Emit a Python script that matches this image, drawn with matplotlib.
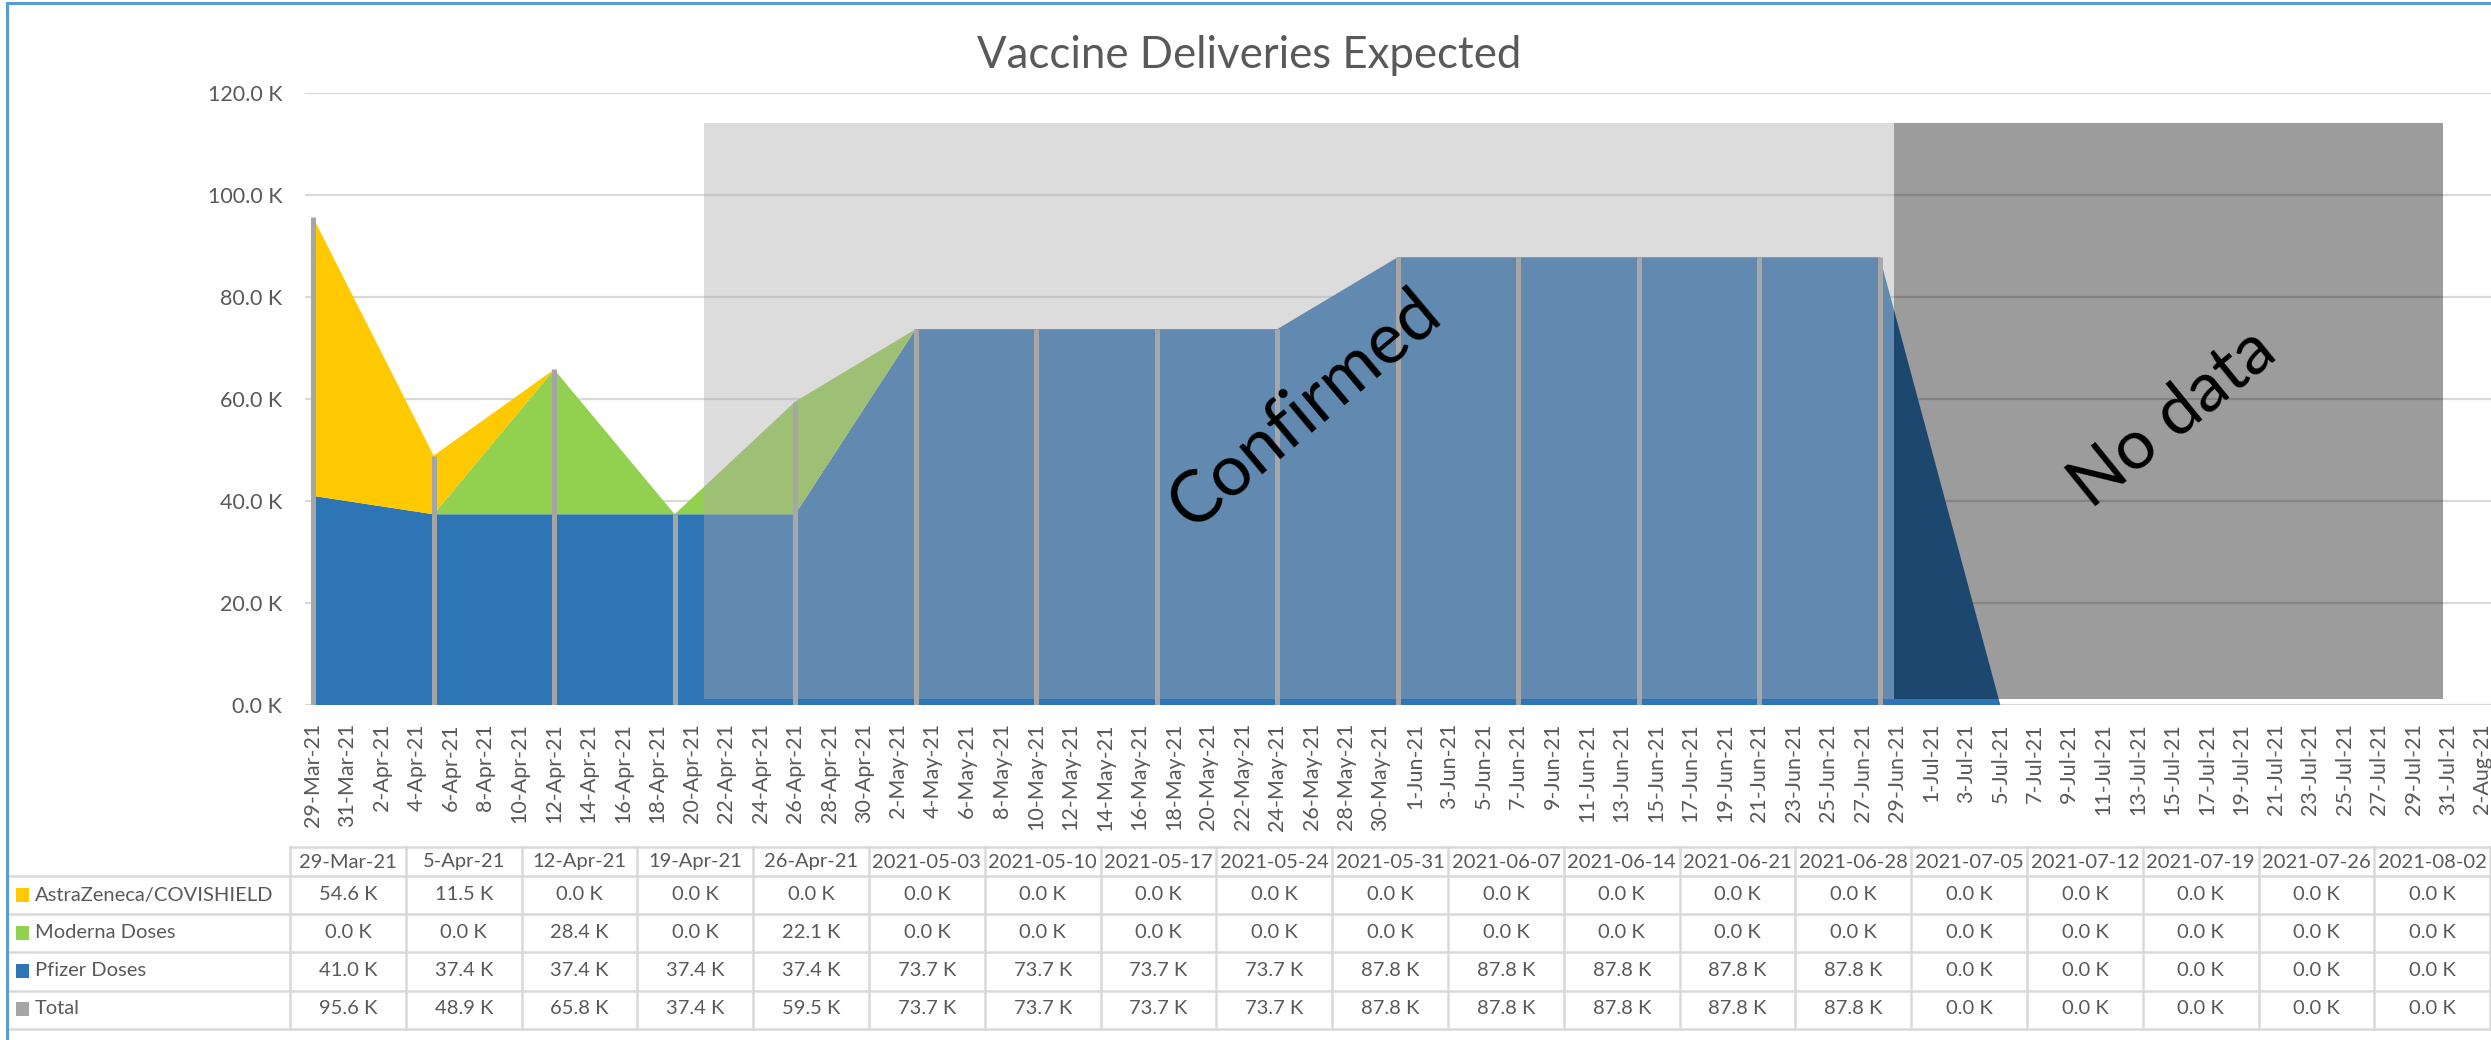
import matplotlib
matplotlib.use("Agg")
import matplotlib.pyplot as plt
import matplotlib.dates as mdates
import pandas as pd
from matplotlib.patches import Rectangle
from matplotlib.lines import Line2D

# ---------------- data ----------------
week_dates = ['2021-03-29', '2021-04-05', '2021-04-12', '2021-04-19', '2021-04-26',
              '2021-05-03', '2021-05-10', '2021-05-17', '2021-05-24', '2021-05-31',
              '2021-06-07', '2021-06-14', '2021-06-21', '2021-06-28', '2021-07-05',
              '2021-07-12', '2021-07-19', '2021-07-26', '2021-08-02']
header_labels = ['29-Mar-21', '5-Apr-21', '12-Apr-21', '19-Apr-21', '26-Apr-21',
                 '2021-05-03', '2021-05-10', '2021-05-17', '2021-05-24', '2021-05-31',
                 '2021-06-07', '2021-06-14', '2021-06-21', '2021-06-28', '2021-07-05',
                 '2021-07-12', '2021-07-19', '2021-07-26', '2021-08-02']
astrazeneca = [54.6, 11.5, 0.0, 0.0, 0.0, 0.0, 0.0, 0.0, 0.0, 0.0,
               0.0, 0.0, 0.0, 0.0, 0.0, 0.0, 0.0, 0.0, 0.0]
moderna = [0.0, 0.0, 28.4, 0.0, 22.1, 0.0, 0.0, 0.0, 0.0, 0.0,
           0.0, 0.0, 0.0, 0.0, 0.0, 0.0, 0.0, 0.0, 0.0]
pfizer = [41.0, 37.4, 37.4, 37.4, 37.4, 73.7, 73.7, 73.7, 73.7, 87.8,
          87.8, 87.8, 87.8, 87.8, 0.0, 0.0, 0.0, 0.0, 0.0]
total = [95.6, 48.9, 65.8, 37.4, 59.5, 73.7, 73.7, 73.7, 73.7, 87.8,
         87.8, 87.8, 87.8, 87.8, 0.0, 0.0, 0.0, 0.0, 0.0]
series_names = ['AstraZeneca/COVISHIELD', 'Moderna Doses', 'Pfizer Doses', 'Total']
y_ticks = [0, 20, 40, 60, 80, 100, 120]

# ---------------- styles ----------------
C_AZ, C_MOD, C_PFZ, C_TOT = '#FFC900', '#92D050', '#2E75B6', '#A5A5A5'
TXT = '#595959'
GRID = '#D9D9D9'
MAIN = ['Lato', 'DejaVu Sans']
TFS = 14.5

W, H = 2491, 1040
fig = plt.figure(figsize=(W / 100, H / 100), dpi=100)
fig.patch.set_facecolor('white')

def fx(x):
    return x / W

def fy(y):
    return 1 - y / H

ax_left, ax_right, ax_top, ax_bot = 304.5, 2491.0, 93.0, 705.0
ax = fig.add_axes([fx(ax_left), fy(ax_bot), fx(ax_right - ax_left), (ax_bot - ax_top) / H])
ax.set_facecolor('none')

x = mdates.date2num(pd.to_datetime(week_dates))
ax.stackplot(x, pfizer, moderna, astrazeneca, colors=[C_PFZ, C_MOD, C_AZ],
             linewidth=0, zorder=2)
ax.vlines(x, 0, total, color=C_TOT, linewidth=3.6, zorder=3)

ax.set_xlim(x[0] - 0.5, x[-1] + 0.5)
ax.set_ylim(0, 120)
ax.set_yticks(y_ticks)
ax.set_yticklabels([f'{v:.1f} K' for v in y_ticks], family=MAIN, fontsize=15.5, color=TXT)
for v in y_ticks:
    ax.axhline(v, color=GRID, linewidth=1.6, zorder=1)
for s in ax.spines.values():
    s.set_visible(False)
ax.tick_params(axis='y', length=0, pad=16)

tick_days = pd.date_range(week_dates[0], week_dates[-1], freq='2D')
ax.set_xticks(mdates.date2num(tick_days))
ax.set_xticklabels([f'{d.day}-{d:%b}-{d:%y}' for d in tick_days], rotation=90,
                   family=MAIN, fontsize=15.5, color=TXT, va='top', ha='center')
ax.tick_params(axis='x', length=0, pad=13)

# overlay shapes (annotation boxes)
ax.add_patch(Rectangle((0.1827, 0.0098), 0.7270 - 0.1827, 0.951 - 0.0098,
                       transform=ax.transAxes, facecolor='#AEAAAA', alpha=0.41,
                       edgecolor='none', zorder=4))
ax.add_patch(Rectangle((0.7270, 0.0098), 0.9780 - 0.7270, 0.951 - 0.0098,
                       transform=ax.transAxes, facecolor='black', alpha=0.39,
                       edgecolor='none', zorder=4))
ax.text(0.4572, 0.4837, 'Confirmed', transform=ax.transAxes, rotation=40,
        ha='center', va='center', fontsize=51, family=MAIN, color='black',
        rotation_mode='anchor', zorder=5)
ax.text(0.8545, 0.4690, 'No data', transform=ax.transAxes, rotation=39,
        ha='center', va='center', fontsize=50, family=MAIN, color='black',
        rotation_mode='anchor', zorder=5)

# title
fig.text(fx(1249), fy(56), 'Vaccine Deliveries Expected', ha='center', va='center',
         fontsize=31.5, family=MAIN, color=TXT)

# ---------------- data table ----------------
col_x0, col_w = 290.0, 115.8
n_cols = len(header_labels)
row_lines = [876, 914, 952, 991, 1029]
top_line = 847
header_y = 862
row_y = [895, 933, 971, 1009]

def hline(x0, x1, y):
    fig.add_artist(Line2D([fx(x0), fx(x1)], [fy(y), fy(y)], color=GRID, linewidth=1.8))

def vline(xp, y0, y1):
    fig.add_artist(Line2D([fx(xp), fx(xp)], [fy(y0), fy(y1)], color=GRID, linewidth=1.8))

hline(col_x0, W, top_line)
for yl in row_lines:
    hline(9, W, yl)
for i in range(n_cols + 1):
    vline(col_x0 + i * col_w, top_line, row_lines[-1])

for i, lab in enumerate(header_labels):
    fig.text(fx(col_x0 + (i + 0.5) * col_w), fy(header_y), lab, ha='center', va='center',
             fontsize=TFS, family=MAIN, color=TXT)

rows = [astrazeneca, moderna, pfizer, total]
key_colors = [C_AZ, C_MOD, C_PFZ, C_TOT]
for r, (name, vals, kc) in enumerate(zip(series_names, rows, key_colors)):
    yc = row_y[r]
    fig.add_artist(Rectangle((fx(16), fy(yc + 7)), fx(13), 14 / H, facecolor=kc,
                             edgecolor='none', transform=fig.transFigure))
    fig.text(fx(35), fy(yc), name, ha='left', va='center', fontsize=TFS,
             family=MAIN, color=TXT)
    for i, v in enumerate(vals):
        fig.text(fx(col_x0 + (i + 0.5) * col_w), fy(yc), f'{v:.1f} K', ha='center',
                 va='center', fontsize=TFS, family=MAIN, color=TXT)

# chart border (left / top visible)
fig.add_artist(Line2D([fx(7), fx(7)], [fy(3), 0], color='#5B9BD5', linewidth=2.2))
fig.add_artist(Line2D([fx(7), 1], [fy(3), fy(3)], color='#5B9BD5', linewidth=2.2))

fig.savefig('out.png', dpi=100, facecolor='white')
